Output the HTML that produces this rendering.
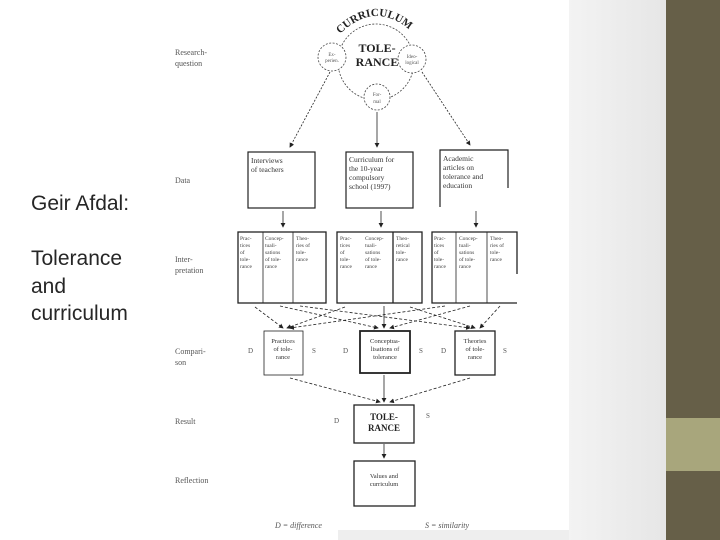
<!DOCTYPE html>
<html><head><meta charset="utf-8"><style>
html,body{margin:0;padding:0;background:#fff;}
#w{position:relative;width:720px;height:540px;overflow:hidden;background:#fff;}
.t{position:absolute;left:31px;font-family:"Liberation Sans",sans-serif;font-size:21px;color:#262626;}
</style></head><body><div id="w">
<div style="position:absolute;left:569px;top:0;width:97px;height:540px;background:linear-gradient(90deg,#f3f3f3,#e6e6e6);"></div>
<div style="position:absolute;left:666px;top:0;width:54px;height:540px;background:#665f48;"></div>
<div style="position:absolute;left:666px;top:418px;width:54px;height:53px;background:#a8a67c;"></div>
<div style="position:absolute;left:338px;top:530px;width:231px;height:10px;background:#eee;"></div>
<div class="t" style="top:192px">Geir Afdal:</div>
<div class="t" style="top:247px">Tolerance</div>
<div class="t" style="top:275px">and</div>
<div class="t" style="top:302px">curriculum</div>
<svg width="720" height="540" style="position:absolute;left:0;top:0" font-family="Liberation Serif,serif" fill="#222">
<defs><marker id="a" markerWidth="6" markerHeight="6" refX="5" refY="3" orient="auto"><path d="M0,0L6,3L0,6z" fill="#222"/></marker></defs>
<g font-size="8" fill="#555">
<text x="175" y="55">Research-</text><text x="175" y="66">question</text>
<text x="175" y="183">Data</text>
<text x="175" y="262">Inter-</text><text x="175" y="273">pretation</text>
<text x="175" y="354">Compari-</text><text x="175" y="365">son</text>
<text x="175" y="424">Result</text>
<text x="175" y="483">Reflection</text>
<text x="275" y="528" font-style="italic">D = difference</text>
<text x="425" y="528" font-style="italic">S = similarity</text>
</g>
<path id="arc" d="M340,34 Q377,-2 414,34" fill="none"/>
<text font-size="11" font-weight="bold"><textPath href="#arc">CURRICULUM</textPath></text>
<g fill="none" stroke="#444" stroke-width="0.8" stroke-dasharray="2,1.5">
<circle cx="376" cy="62" r="38" fill="#fff"/>
<circle cx="332" cy="57" r="14" fill="#fff"/>
<circle cx="412" cy="59" r="14" fill="#fff"/>
<circle cx="377" cy="97" r="13" fill="#fff"/>
</g>
<g font-size="5" fill="#555" text-anchor="middle">
<text x="332" y="56">Ex-</text><text x="332" y="62">perien.</text>
<text x="412" y="58">Ideo-</text><text x="412" y="64">logical</text>
<text x="377" y="96">For-</text><text x="377" y="103">mal</text>
</g>
<g font-size="12" font-weight="bold" text-anchor="middle"><text x="377" y="52">TOLE-</text><text x="377" y="66">RANCE</text></g>
<g stroke="#222" stroke-width="0.8" fill="none">
<line x1="330" y1="72" x2="290" y2="147" stroke-dasharray="2,1.5" marker-end="url(#a)"/>
<line x1="377" y1="112" x2="377" y2="147" marker-end="url(#a)"/>
<line x1="422" y1="72" x2="470" y2="145" stroke-dasharray="2,1.5" marker-end="url(#a)"/>
<rect x="248" y="152" width="67" height="56" stroke-width="1.2"/>
<rect x="346" y="152" width="67" height="56" stroke-width="1.2"/>
<path d="M440,207V150H508V188" stroke-width="1.2"/>
<line x1="283" y1="211" x2="283" y2="227" marker-end="url(#a)"/>
<line x1="381" y1="211" x2="381" y2="227" marker-end="url(#a)"/>
<line x1="476" y1="211" x2="476" y2="227" marker-end="url(#a)"/>
<rect x="238" y="232" width="88" height="71" stroke-width="1.3"/>
<line x1="263" y1="232" x2="263" y2="303"/><line x1="293" y1="232" x2="293" y2="303"/>
<rect x="337" y="232" width="85" height="71" stroke-width="1.3"/>
<line x1="393" y1="232" x2="393" y2="303" stroke-width="1.3"/>
<path d="M517,274V232H432V303H517" stroke-width="1.3"/>
<line x1="456" y1="232" x2="456" y2="303"/><line x1="487" y1="232" x2="487" y2="303"/>
<g stroke-dasharray="3,2">
<line x1="255" y1="307" x2="283" y2="328" marker-end="url(#a)"/>
<line x1="280" y1="306" x2="378" y2="328" marker-end="url(#a)"/>
<line x1="300" y1="306" x2="470" y2="328" marker-end="url(#a)"/>
<line x1="345" y1="307" x2="287" y2="328" marker-end="url(#a)"/>
<line x1="410" y1="307" x2="475" y2="328" marker-end="url(#a)"/>
<line x1="445" y1="306" x2="290" y2="328" marker-end="url(#a)"/>
<line x1="470" y1="306" x2="390" y2="328" marker-end="url(#a)"/>
<line x1="500" y1="306" x2="480" y2="328" marker-end="url(#a)"/>
<line x1="290" y1="378" x2="380" y2="402" marker-end="url(#a)"/>
<line x1="470" y1="378" x2="390" y2="402" marker-end="url(#a)"/>
</g>
<line x1="384" y1="306" x2="384" y2="328" marker-end="url(#a)"/>
<line x1="384" y1="375" x2="384" y2="402" marker-end="url(#a)"/>
<line x1="384" y1="444" x2="384" y2="458" marker-end="url(#a)"/>
<rect x="264" y="331" width="39" height="44"/>
<rect x="360" y="331" width="50" height="42" stroke-width="1.8"/>
<rect x="455" y="331" width="40" height="44" stroke-width="1.3"/>
<rect x="354" y="405" width="60" height="38" stroke-width="1.3"/>
<rect x="354" y="461" width="61" height="45" stroke-width="1.3"/>
</g>
<g font-size="7.5" fill="#333">
<text x="251" y="163">Interviews</text><text x="251" y="172">of teachers</text>
<text x="349" y="162">Curriculum for</text><text x="349" y="171">the 10-year</text><text x="349" y="180">compulsory</text><text x="349" y="189">school (1997)</text>
<text x="443" y="161">Academic</text><text x="443" y="170">articles on</text><text x="443" y="179">tolerance and</text><text x="443" y="188">education</text>
</g>
<g font-size="5.5" fill="#444">
<text x="240" y="240">Prac-</text><text x="240" y="247">tices</text><text x="240" y="254">of</text><text x="240" y="261">tole-</text><text x="240" y="268">rance</text>
<text x="265" y="240">Concep-</text><text x="265" y="247">tuali-</text><text x="265" y="254">sations</text><text x="265" y="261">of tole-</text><text x="265" y="268">rance</text>
<text x="296" y="240">Theo-</text><text x="296" y="247">ries of</text><text x="296" y="254">tole-</text><text x="296" y="261">rance</text>
<text x="340" y="240">Prac-</text><text x="340" y="247">tices</text><text x="340" y="254">of</text><text x="340" y="261">tole-</text><text x="340" y="268">rance</text>
<text x="365" y="240">Concep-</text><text x="365" y="247">tuali-</text><text x="365" y="254">sations</text><text x="365" y="261">of tole-</text><text x="365" y="268">rance</text>
<text x="396" y="240">Theo-</text><text x="396" y="247">retical</text><text x="396" y="254">tole-</text><text x="396" y="261">rance</text>
<text x="434" y="240">Prac-</text><text x="434" y="247">tices</text><text x="434" y="254">of</text><text x="434" y="261">tole-</text><text x="434" y="268">rance</text>
<text x="459" y="240">Concep-</text><text x="459" y="247">tuali-</text><text x="459" y="254">sations</text><text x="459" y="261">of tole-</text><text x="459" y="268">rance</text>
<text x="490" y="240">Theo-</text><text x="490" y="247">ries of</text><text x="490" y="254">tole-</text><text x="490" y="261">rance</text>
</g>
<g font-size="6.5" fill="#333" text-anchor="middle">
<text x="283" y="343">Practices</text><text x="283" y="351">of tole-</text><text x="283" y="359">rance</text>
<text x="385" y="343">Conceptua-</text><text x="385" y="351">lisations of</text><text x="385" y="359">tolerance</text>
<text x="475" y="343">Theories</text><text x="475" y="351">of tole-</text><text x="475" y="359">rance</text>
<text x="384" y="478">Values and</text><text x="384" y="486">curriculum</text>
</g>
<g font-size="9" font-weight="bold" text-anchor="middle"><text x="384" y="420">TOLE-</text><text x="384" y="431">RANCE</text></g>
<g font-size="7" fill="#555">
<text x="248" y="353">D</text><text x="312" y="353">S</text><text x="343" y="353">D</text><text x="419" y="353">S</text><text x="441" y="353">D</text><text x="503" y="353">S</text>
<text x="334" y="423">D</text><text x="426" y="418">S</text>
</g>
</svg>
</div></body></html>
